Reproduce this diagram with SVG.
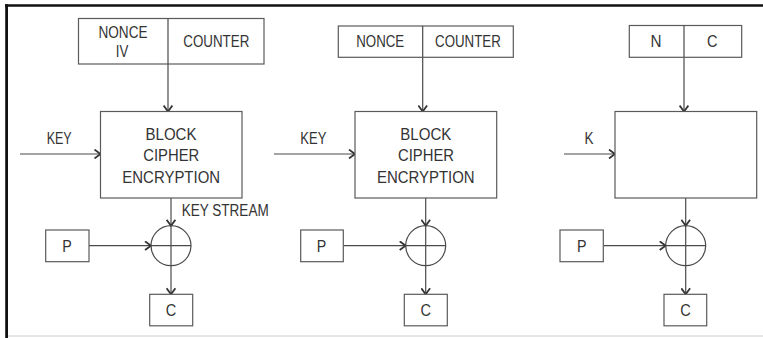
<svg xmlns="http://www.w3.org/2000/svg" width="763" height="338" viewBox="0 0 763 338">
  <style>
    .box { fill: #ffffff; stroke: #5a5a5a; stroke-width: 1.2; }
    .ln { fill: none; stroke: #4a4a4a; stroke-width: 1.2; }
    .arr { fill: none; stroke: #4a4a4a; stroke-width: 1.2; marker-end: url(#chev); }
    text { font-family: "Liberation Sans", Arial, sans-serif; font-size: 16px; fill: #333333; }
    .c { text-anchor: middle; }
  </style>
  <defs>
    <marker id="chev" viewBox="0 0 10 10" refX="8.5" refY="5" markerWidth="10" markerHeight="10" markerUnits="userSpaceOnUse" orient="auto">
      <path d="M2.5,0.6 L8.5,5 L2.5,9.4" fill="none" stroke="#333333" stroke-width="1.8"/>
    </marker>
  </defs>
  <rect x="0" y="0" width="763" height="338" fill="#ffffff"/>
  <g id="frame">
    <line x1="5" y1="5.5" x2="763" y2="5.5" stroke="#111111" stroke-width="2.6"/>
    <line x1="6.6" y1="4.3" x2="6.6" y2="338" stroke="#111111" stroke-width="2.8"/>
    <line x1="8" y1="336" x2="763" y2="336" stroke="#cccccc" stroke-width="1"/>
  </g>

  <g id="connectors">
    <!-- panel 1 -->
    <line class="arr" x1="168" y1="64" x2="168" y2="111.5"/>
    <line class="arr" x1="20" y1="154" x2="100.5" y2="154"/>
    <line class="arr" x1="171" y1="198" x2="171" y2="225.7"/>
    <line class="arr" x1="89" y1="245.7" x2="151" y2="245.7"/>
    <line class="arr" x1="171" y1="265.7" x2="171" y2="294.3"/>
    <!-- panel 2 -->
    <line class="arr" x1="422.7" y1="57.3" x2="422.7" y2="111.5"/>
    <line class="arr" x1="274" y1="154" x2="355" y2="154"/>
    <line class="arr" x1="425.7" y1="198" x2="425.7" y2="225.7"/>
    <line class="arr" x1="343.3" y1="245.7" x2="405.7" y2="245.7"/>
    <line class="arr" x1="425.7" y1="265.7" x2="425.7" y2="294.3"/>
    <!-- panel 3 -->
    <line class="arr" x1="684" y1="57.3" x2="684" y2="111.5"/>
    <line class="arr" x1="564" y1="154" x2="615" y2="154"/>
    <line class="arr" x1="685.7" y1="198" x2="685.7" y2="225.7"/>
    <line class="arr" x1="603.3" y1="245.7" x2="665.7" y2="245.7"/>
    <line class="arr" x1="685.7" y1="265.7" x2="685.7" y2="294.3"/>
  </g>

  <!-- Panel 1 -->
  <g id="p1-input">
    <rect class="box" x="78.5" y="18.5" width="185.5" height="45.5"/>
    <line class="ln" x1="168" y1="18.5" x2="168" y2="64"/>
    <text class="c" x="123" y="37.7" textLength="49" lengthAdjust="spacingAndGlyphs">NONCE</text>
    <text class="c" x="122" y="57.3" textLength="12.5" lengthAdjust="spacingAndGlyphs">IV</text>
    <text class="c" x="216.3" y="47.3" textLength="66" lengthAdjust="spacingAndGlyphs">COUNTER</text>
  </g>
  <g id="p1-key">
    <text class="c" x="59.2" y="144" textLength="25" lengthAdjust="spacingAndGlyphs">KEY</text>
  </g>
  <g id="p1-block">
    <rect class="box" x="100.5" y="111.5" width="141.5" height="86.5"/>
    <text class="c" x="171" y="140" textLength="51" lengthAdjust="spacingAndGlyphs">BLOCK</text>
    <text class="c" x="171.3" y="161.3" textLength="56" lengthAdjust="spacingAndGlyphs">CIPHER</text>
    <text class="c" x="171.2" y="182.5" textLength="97.7" lengthAdjust="spacingAndGlyphs">ENCRYPTION</text>
  </g>
  <g id="p1-keystream">
    <text x="181.7" y="216" textLength="87" lengthAdjust="spacingAndGlyphs">KEY STREAM</text>
  </g>
  <g id="p1-xor">
    <circle class="ln" cx="171" cy="245.7" r="20"/>
    <line class="ln" x1="151" y1="245.7" x2="191" y2="245.7"/>
    <line class="ln" x1="171" y1="225.7" x2="171" y2="265.7"/>
  </g>
  <g id="p1-p">
    <rect class="box" x="45.7" y="230" width="43.3" height="31.7"/>
    <text class="c" x="67" y="251.7" textLength="9.5" lengthAdjust="spacingAndGlyphs">P</text>
  </g>
  <g id="p1-c">
    <rect class="box" x="149.7" y="294.3" width="43" height="31.5"/>
    <text class="c" x="171" y="315.6" textLength="10.5" lengthAdjust="spacingAndGlyphs">C</text>
  </g>

  <!-- Panel 2 -->
  <g id="p2-input">
    <rect class="box" x="338.3" y="26" width="175" height="31.3"/>
    <line class="ln" x1="422.7" y1="26" x2="422.7" y2="57.3"/>
    <text class="c" x="380.2" y="47" textLength="48" lengthAdjust="spacingAndGlyphs">NONCE</text>
    <text class="c" x="467.9" y="47" textLength="65.7" lengthAdjust="spacingAndGlyphs">COUNTER</text>
  </g>
  <g id="p2-key">
    <text class="c" x="313.3" y="144" textLength="26" lengthAdjust="spacingAndGlyphs">KEY</text>
  </g>
  <g id="p2-block">
    <rect class="box" x="355" y="111.5" width="141.7" height="86.5"/>
    <text class="c" x="425.8" y="140" textLength="51" lengthAdjust="spacingAndGlyphs">BLOCK</text>
    <text class="c" x="426" y="161.3" textLength="56" lengthAdjust="spacingAndGlyphs">CIPHER</text>
    <text class="c" x="425.8" y="182.5" textLength="97.7" lengthAdjust="spacingAndGlyphs">ENCRYPTION</text>
  </g>
  <g id="p2-xor">
    <circle class="ln" cx="425.7" cy="245.7" r="20"/>
    <line class="ln" x1="405.7" y1="245.7" x2="445.7" y2="245.7"/>
    <line class="ln" x1="425.7" y1="225.7" x2="425.7" y2="265.7"/>
  </g>
  <g id="p2-p">
    <rect class="box" x="300.7" y="230" width="42.6" height="31.7"/>
    <text class="c" x="321.5" y="251.7" textLength="9.5" lengthAdjust="spacingAndGlyphs">P</text>
  </g>
  <g id="p2-c">
    <rect class="box" x="404.3" y="294.3" width="43" height="31.5"/>
    <text class="c" x="425.7" y="315.6" textLength="10.5" lengthAdjust="spacingAndGlyphs">C</text>
  </g>

  <!-- Panel 3 -->
  <g id="p3-input">
    <rect class="box" x="629.3" y="25.5" width="112.4" height="31.8"/>
    <line class="ln" x1="684" y1="25.5" x2="684" y2="57.3"/>
    <text class="c" x="656" y="46.8" textLength="11" lengthAdjust="spacingAndGlyphs">N</text>
    <text class="c" x="712.3" y="46.8" textLength="10.5" lengthAdjust="spacingAndGlyphs">C</text>
  </g>
  <g id="p3-key">
    <text class="c" x="589" y="144" textLength="9" lengthAdjust="spacingAndGlyphs">K</text>
  </g>
  <g id="p3-block">
    <rect class="box" x="615" y="111.5" width="141.7" height="86.5"/>
  </g>
  <g id="p3-xor">
    <circle class="ln" cx="685.7" cy="245.7" r="20"/>
    <line class="ln" x1="665.7" y1="245.7" x2="705.7" y2="245.7"/>
    <line class="ln" x1="685.7" y1="225.7" x2="685.7" y2="265.7"/>
  </g>
  <g id="p3-p">
    <rect class="box" x="560" y="230" width="43.3" height="31.7"/>
    <text class="c" x="581.7" y="251.7" textLength="9.5" lengthAdjust="spacingAndGlyphs">P</text>
  </g>
  <g id="p3-c">
    <rect class="box" x="664" y="294.3" width="42.7" height="31.5"/>
    <text class="c" x="685.5" y="315.6" textLength="10.5" lengthAdjust="spacingAndGlyphs">C</text>
  </g>
</svg>
